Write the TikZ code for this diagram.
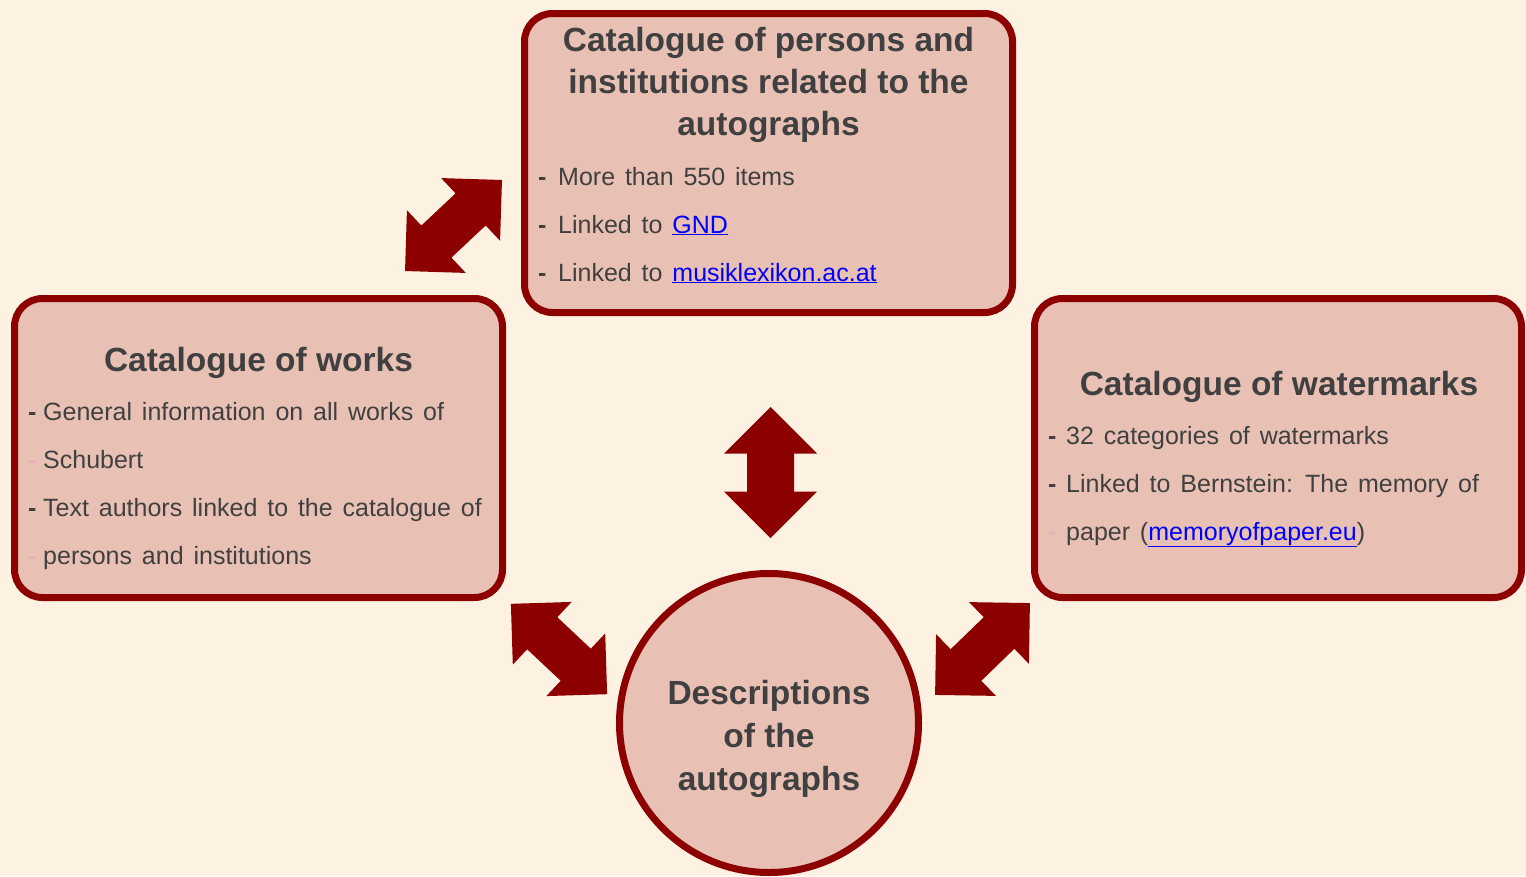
\documentclass[tikz,border=0pt]{standalone}
\usepackage{fontspec}
\setmainfont{Liberation Sans}
\newfontfamily\itemfont{Liberation Sans}[WordSpace=1.42]
\usepackage{xcolor}
\definecolor{pageColor}{RGB}{253,241,226}
\definecolor{boxColor}{RGB}{232,193,180}
\definecolor{frameColor}{RGB}{140,0,0}
\definecolor{textColor}{RGB}{64,64,64}
\definecolor{linkColor}{RGB}{0,0,255}
\definecolor{dashColor}{RGB}{234,178,188}

\newcommand{\lnk}[1]{\textcolor{linkColor}{\underline{#1}}}
\newcommand{\idash}[1][15pt]{\makebox[#1][l]{\textbf{-}}}
\newcommand{\fdash}[1][15pt]{\makebox[#1][l]{\textcolor{dashColor}{\textbf{-}}}}

\tikzset{
  catbox/.style={draw=frameColor, line width=7pt, fill=boxColor, rounded corners=28pt,
    minimum width=488pt, minimum height=299pt, inner sep=0pt},
  title/.style={font=\fontsize{33.5}{42}\selectfont\bfseries, text=textColor, anchor=base, inner sep=0pt},
  item/.style={font=\itemfont\fontsize{25}{48}\selectfont, text=textColor, anchor=base west, inner sep=0pt},
  pics/dblarrow/.style args={#1/#2/#3}{code={
    \fill[frameColor] (-#1,0) -- (-#1+#2,#2) -- (-#1+#2,#3) -- (#1-#2,#3) -- (#1-#2,#2) -- (#1,0)
      -- (#1-#2,-#2) -- (#1-#2,-#3) -- (-#1+#2,-#3) -- (-#1+#2,-#2) -- cycle;
  }}
}

\begin{document}
\begin{tikzpicture}[x=1pt, y=-1pt]
    \fill[pageColor] (0,0) rectangle (1526,876);
    \useasboundingbox (0,0) rectangle (1526,876);

    % The three catalogues and the descriptions
    \node[catbox] (persons) at (768.5,163) {};
    \node[catbox] (works) at (258.5,448) {};
    \node[catbox, minimum width=487pt] (watermarks) at (1278,448) {};
    \node[circle, draw=frameColor, line width=7pt, fill=boxColor, minimum size=299pt, inner sep=0pt] (descr) at (769,723) {};

    % Persons and institutions
    \node[title] (persT1) at (768.5,51) {Catalogue of persons and};
    \node[title] (persT2) at (768.5,93) {institutions related to the};
    \node[title] (persT3) at (768.5,135) {autographs};
    \node[item] (persI1) at (538,185) {\idash[20pt]More than 550 items};
    \node[item] (persI2) at (538,233) {\idash[20pt]Linked to \lnk{GND}};
    \node[item] (persI3) at (538,281) {\idash[20pt]Linked to \lnk{musiklexikon.ac.at}};

    % Works
    \node[title] (worksT) at (258.5,371) {Catalogue of works};
    \node[item] (worksI1) at (28,420) {\idash General information on all works of};
    \node[item] (worksI2) at (28,468) {\fdash Schubert};
    \node[item] (worksI3) at (28,516) {\idash Text authors linked to the catalogue of};
    \node[item] (worksI4) at (28,564) {\fdash persons and institutions};

    % Watermarks
    \node[title] (wmT) at (1279,395) {Catalogue of watermarks};
    \node[item] (wmI1) at (1048,444) {\idash[18pt]32 categories of watermarks};
    \node[item] (wmI2) at (1048,492) {\idash[18pt]Linked to Bernstein: The memory of};
    \node[item] (wmI3) at (1048,540) {\fdash[18pt]paper (\lnk{memoryofpaper.eu})};

    % Descriptions
    \node[title] (descrT1) at (769,704) {Descriptions};
    \node[title] (descrT2) at (769,747) {of the};
    \node[title] (descrT3) at (769,790) {autographs};

    % Block arrows between the parts
    \pic[rotate=43.2] at (453.5,225.5) {dblarrow=66.5/43/22};
    \pic[rotate=90] at (770.5,472.5) {dblarrow=65.5/46.5/23.5};
    \pic[rotate=-43.2] at (559,649) {dblarrow=66/43/22};
    \pic[rotate=44.1] at (982.5,649) {dblarrow=66/43/22};
\end{tikzpicture}
\end{document}
